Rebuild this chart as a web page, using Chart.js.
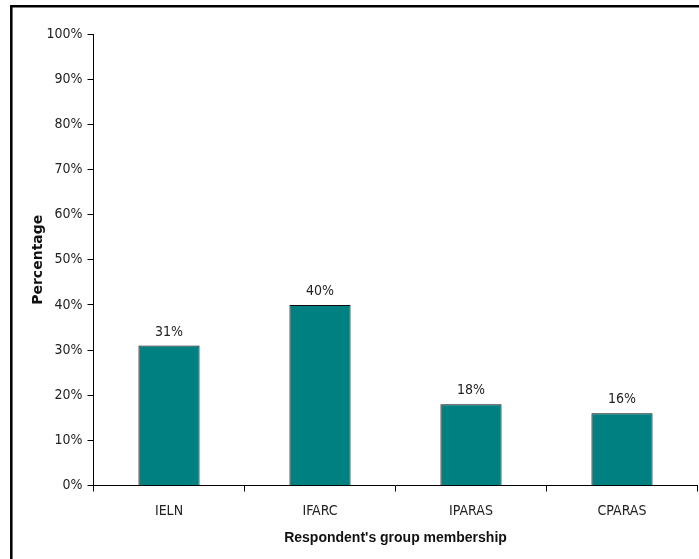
<!DOCTYPE html>
<html>
<head>
<meta charset="utf-8">
<script src="https://cdn.jsdelivr.net/npm/chart.js@4/dist/chart.umd.min.js"></script>
<style>
  html, body { margin: 0; padding: 0; background: #fff; }
  #wrap { width: 699px; height: 559px; }
</style>
</head>
<body>
<div id="wrap"><canvas id="barChart" width="699" height="559"></canvas></div>
<script>
const groups = ['IELN', 'IFARC', 'IPARAS', 'CPARAS'];
const percents = [31, 40, 18, 16];
const yTicks = [0, 10, 20, 30, 40, 50, 60, 70, 80, 90, 100];

const narrow = "'Liberation Sans Narrow', 'DejaVu Sans Condensed', sans-serif";
const bold = "'Liberation Sans', Arial, sans-serif";

// frame along the top and left edges
const framePlugin = {
  id: 'frame',
  afterDraw(chart) {
    const ctx = chart.ctx;
    ctx.save();
    ctx.strokeStyle = '#000';
    ctx.lineWidth = 2.5;
    ctx.beginPath();
    ctx.moveTo(11.3, 559);
    ctx.lineTo(11.3, 6.2);
    ctx.lineTo(699, 6.2);
    ctx.stroke();
    ctx.restore();
  }
};

// value labels over each bar
const valueLabels = {
  id: 'valueLabels',
  afterDatasetsDraw(chart) {
    const ctx = chart.ctx;
    const meta = chart.getDatasetMeta(0);
    ctx.save();
    ctx.font = '14px ' + narrow;
    ctx.fillStyle = '#222';
    ctx.textAlign = 'center';
    ctx.textBaseline = 'alphabetic';
    meta.data.forEach((bar, i) => {
      ctx.fillText(percents[i] + '%', bar.x, bar.y - 10);
    });
    ctx.restore();
  }
};

new Chart(document.getElementById('barChart'), {
  type: 'bar',
  data: {
    labels: groups,
    datasets: [{
      data: percents,
      backgroundColor: '#008080',
      borderColor: '#0a0a0a',
      borderWidth: 1,
      categoryPercentage: 1,
      barPercentage: 0.405
    }]
  },
  options: {
    responsive: false,
    animation: false,
    layout: { padding: { left: 30, right: 1.5, top: 34, bottom: 12 } },
    plugins: { legend: { display: false }, tooltip: { enabled: false } },
    scales: {
      x: {
        afterFit(scale) { scale.height = 61.5; },
        grid: { offset: true, drawOnChartArea: false, drawTicks: true, tickLength: 6, color: '#000' },
        border: { color: '#000', width: 1 },
        ticks: { color: '#222', padding: 11, font: { size: 14, family: narrow } },
        title: {
          display: true,
          text: "Respondent's group membership",
          color: '#111',
          font: { size: 14, weight: 'bold', family: bold },
          padding: { top: 4, bottom: 0 }
        }
      },
      y: {
        min: 0,
        max: 100,
        afterFit(scale) { scale.width = 63.5; },
        afterBuildTicks(scale) { scale.ticks = yTicks.map(v => ({ value: v })); },
        grid: { drawOnChartArea: false, drawTicks: true, tickLength: 6, color: '#000' },
        border: { color: '#000', width: 1 },
        ticks: {
          color: '#222',
          padding: 5,
          font: { size: 14, family: narrow },
          callback: v => v + '%'
        },
        title: {
          display: true,
          text: 'Percentage',
          color: '#111',
          font: { size: 14, weight: 'bold', family: "'DejaVu Sans', sans-serif" },
          padding: { top: 0, bottom: 4 }
        }
      }
    }
  },
  plugins: [framePlugin, valueLabels]
});
</script>
</body>
</html>
